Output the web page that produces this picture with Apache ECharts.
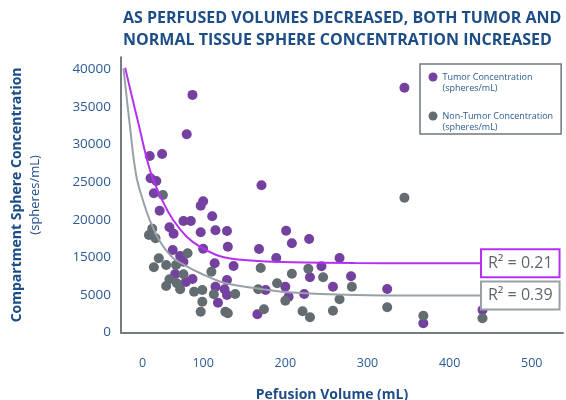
<!DOCTYPE html>
<html>
<head>
<meta charset="UTF-8">
<script src="https://cdn.jsdelivr.net/npm/echarts@6/dist/echarts.min.js"></script>
<style>
  html, body { margin: 0; padding: 0; background: #fff; }
  #chart { width: 566px; height: 400px; }
</style>
</head>
<body>
<div id="chart"></div>
<script>
// tick labels as printed on the original y axis (its 10000 label is missing)
var yTickLabels = ['0', '5000', '15000', '20000', '25000', '30000', '35000', '40000'];
var xTickLabels = ['0', '100', '200', '300', '400', '500'];

// [perfusion volume mL, concentration] -- y in plotted axis units
var tumorPoints = [
  [87, 31600], [80, 26360], [35, 23480], [50, 23740], [36, 20510], [43, 20150],
  [40, 18510], [47, 16200], [97, 16860], [100, 17450], [111, 15460], [76, 14830],
  [85, 14830], [59, 13990], [64, 13140], [97, 13330], [115, 13590], [129, 13500],
  [63, 10970], [72, 10180], [100, 11150], [130, 11410], [171, 19580], [201, 13540],
  [208, 11860], [229, 12440], [168, 11110], [189, 9910], [137, 8850], [114, 9200],
  [76, 9420], [66, 7780], [79, 6720], [87, 7120], [115, 6090], [126, 5750],
  [129, 4990], [118, 3960], [129, 6980], [266, 9910], [244, 8810], [230, 7340],
  [280, 7480], [200, 6090], [176, 5650], [258, 6090], [223, 5120], [204, 4760],
  [166, 2420], [324, 5790], [368, 1220], [440, 2990], [345, 32560]
];
var nonTumorPoints = [
  [345, 17930], [51, 18290], [38, 13810], [34, 12970], [42, 12530], [81, 10530],
  [46, 9870], [40, 8670], [55, 8980], [67, 8980], [76, 7740], [59, 7080],
  [55, 6190], [68, 6540], [72, 5750], [89, 5430], [99, 5650], [113, 5080],
  [99, 4100], [97, 2770], [127, 2770], [110, 8090], [170, 8580], [208, 7820],
  [228, 8490], [246, 7340], [190, 6540], [167, 5750], [139, 5120], [200, 4230],
  [266, 4420], [281, 6090], [174, 3090], [221, 2820], [230, 2020], [258, 2900],
  [130, 2550], [324, 3350], [368, 2230], [440, 1890]
];

// fitted trend curves
var tumorFit = [
  [5, 35220], [20.5, 28130], [36, 21350], [51, 17400], [63.5, 14960], [80, 12740],
  [96, 11410], [116, 10310], [133, 9840], [167, 9510], [208, 9340], [285, 9240],
  [364, 9220], [439.4, 9200]
];
var nonTumorFit = [
  [3, 35140], [10.7, 27600], [18.4, 20950], [26.6, 17620], [35, 14960], [47, 12170],
  [62, 10040], [75, 9110], [96, 7910], [126.5, 6580], [167, 5850], [208, 5320],
  [285, 4990], [364, 4920], [439.4, 4920]
];
var r2Labels = ['R\u00b2 = 0.21', 'R\u00b2 = 0.39'];

var font = 'Open Sans';
var blue = '#1d4d86';
var tickBlue = '#2a5b92';
var purple = '#7441a0';
var grey = '#636c71';

// legend dot sits level with the first text line: circle at the top of a 9x20 box
var legendIcon = 'path://M0,4.5 A4.5,4.5 0 1,1 9,4.5 A4.5,4.5 0 1,1 0,4.5 Z M4.5,20 L4.5,20';

var chart = echarts.init(document.getElementById('chart'));
var option = {
  animation: false,
  title: {
    text: 'AS PERFUSED VOLUMES DECREASED, BOTH TUMOR AND\nNORMAL TISSUE SPHERE CONCENTRATION INCREASED',
    left: 123,
    top: 7,
    padding: 0,
    textStyle: { fontFamily: font, fontWeight: 'bold', fontSize: 16, lineHeight: 22, color: blue }
  },
  legend: {
    data: ['Tumor Concentration\n(spheres/mL)', 'Non-Tumor Concentration\n(spheres/mL)'],
    orient: 'vertical',
    left: 420,
    top: 64,
    padding: [7.5, 8, 1.5, 8.5],
    itemGap: 17,
    itemWidth: 9,
    itemHeight: 20,
    borderColor: '#6e787e',
    borderWidth: 1.5,
    borderRadius: 0,
    icon: legendIcon,
    textStyle: { fontFamily: font, fontSize: 9, lineHeight: 11, color: tickBlue }
  },
  grid: { left: 121, right: 3, top: 57.3, bottom: 67.5, containLabel: false, outerBoundsMode: 'none' },
  xAxis: {
    type: 'value',
    min: 0,
    max: 538,
    interval: 100,
    offset: 4.5,
    name: 'Pefusion Volume (mL)',
    nameLocation: 'middle',
    nameGap: 51,
    nameTextStyle: { fontFamily: font, fontWeight: 'bold', fontSize: 14, color: blue, padding: [0, 20, 0, 0] },
    axisLine: { show: true, lineStyle: { color: '#737c82', width: 2 } },
    axisTick: { show: false },
    splitLine: { show: false },
    axisLabel: {
      margin: 20,
      fontFamily: font,
      fontSize: 12.5,
      color: tickBlue,
      showMaxLabel: false,
      formatter: function (v) {
        var s = xTickLabels[Math.round(v / 100)];
        return v === 0 ? '{z|' + s + '}' : s;
      },
      rich: { z: { fontFamily: font, fontSize: 12.5, color: tickBlue, padding: [0, 0, 0, 43] } }
    }
  },
  yAxis: {
    type: 'value',
    min: 0,
    max: 36600,
    interval: 5000,
    name: '{b|Compartment Sphere Concentration}\n{n|(spheres/mL)}',
    nameLocation: 'middle',
    nameRotate: 90,
    nameGap: 77,
    nameTextStyle: {
      rich: {
        b: { fontFamily: font, fontWeight: 'bold', fontSize: 14, lineHeight: 18, color: blue },
        n: { fontFamily: font, fontSize: 13, lineHeight: 18, color: blue }
      }
    },
    axisLine: { show: true, lineStyle: { color: '#737c82', width: 2 } },
    axisTick: { show: false },
    splitLine: { show: false },
    axisLabel: {
      margin: 10,
      fontFamily: font,
      fontSize: 13.5,
      color: tickBlue,
      showMaxLabel: false,
      formatter: function (v) { return yTickLabels[Math.round(v / 5000)]; }
    }
  },
  series: [
    {
      name: 'Tumor Concentration\n(spheres/mL)',
      type: 'scatter',
      data: tumorPoints,
      symbolSize: 10,
      itemStyle: { color: purple, opacity: 1 },
      z: 2
    },
    {
      name: 'Non-Tumor Concentration\n(spheres/mL)',
      type: 'scatter',
      data: nonTumorPoints,
      symbolSize: 10,
      itemStyle: { color: grey, opacity: 1 },
      z: 3
    },
    {
      name: 'tumorFit',
      type: 'line',
      data: tumorFit,
      smooth: 0.4,
      showSymbol: false,
      lineStyle: { color: '#b630f4', width: 2 },
      z: 4,
      endLabel: {
        show: true,
        distance: 0,
        formatter: function () { return r2Labels[0]; },
        fontFamily: font,
        fontSize: 16,
        lineHeight: 18,
        color: '#5c666c',
        backgroundColor: '#fff',
        borderColor: '#b630f4',
        borderWidth: 2,
        padding: [4, 6, 4, 6]
      }
    },
    {
      name: 'nonTumorFit',
      type: 'line',
      data: nonTumorFit,
      smooth: 0.4,
      showSymbol: false,
      lineStyle: { color: '#98a1a7', width: 2 },
      z: 4,
      endLabel: {
        show: true,
        distance: 0,
        formatter: function () { return r2Labels[1]; },
        fontFamily: font,
        fontSize: 16,
        lineHeight: 18,
        color: '#5c666c',
        backgroundColor: '#fff',
        borderColor: '#98a1a7',
        borderWidth: 2,
        padding: [4, 6, 4, 6]
      }
    }
  ]
};
chart.setOption(option);
</script>
</body>
</html>
